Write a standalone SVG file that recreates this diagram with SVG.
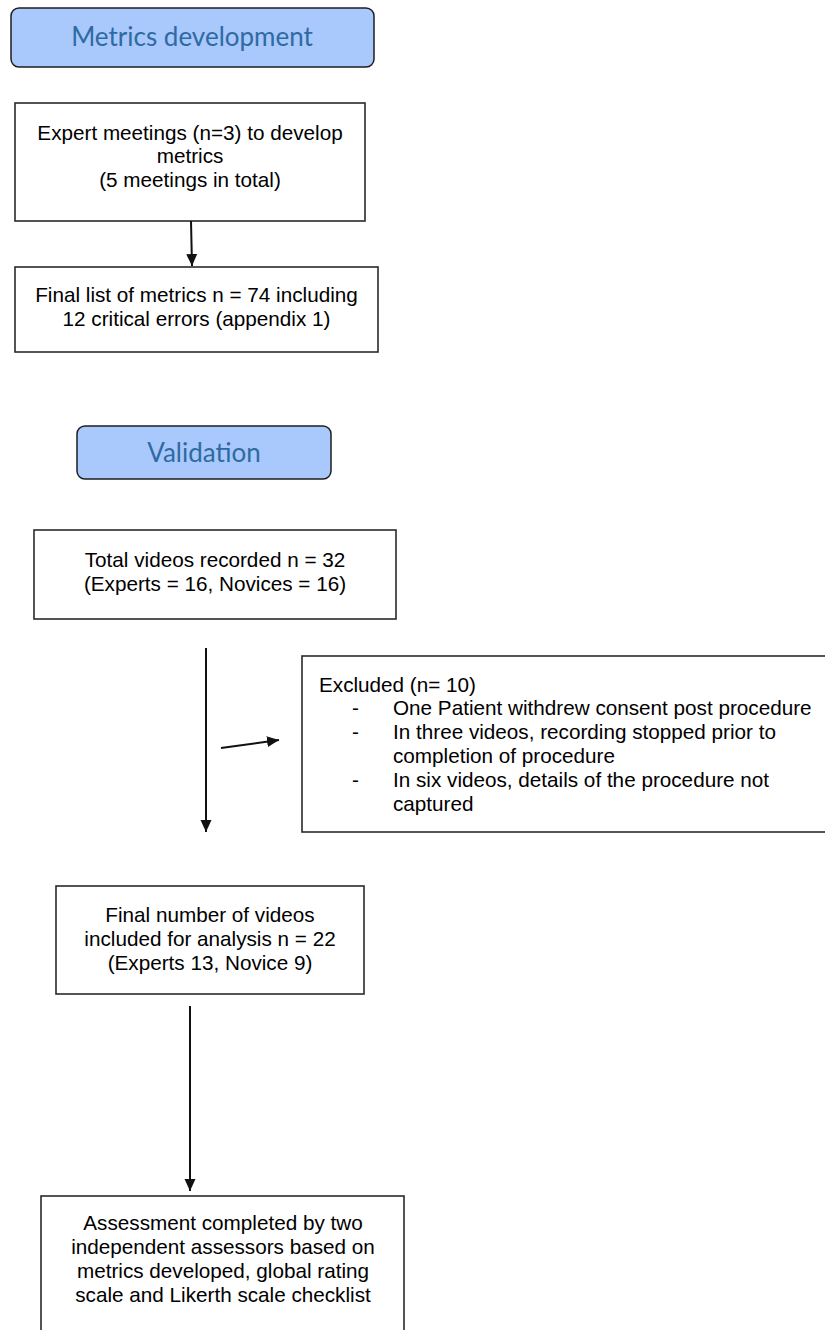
<svg xmlns="http://www.w3.org/2000/svg" width="825" height="1330" viewBox="0 0 825 1330">
<defs>
<style>
.hdr{fill:#a9c8fb;stroke:#1e1e1e;stroke-width:1.5}
.hdrt{font-family:Lato,"Open Sans",sans-serif;font-size:26px;fill:#2f6aa3;text-anchor:middle}
.box{fill:#ffffff;stroke:#2a2a2a;stroke-width:1.6}
.t{font-family:"Liberation Sans",Arial,sans-serif;font-size:20.7px;fill:#000}
.c{text-anchor:middle}
.ln{stroke:#111;stroke-width:2;fill:none}
</style>
<marker id="ah" markerWidth="12" markerHeight="12" viewBox="0 0 12 12" refX="12" refY="6" orient="auto" markerUnits="userSpaceOnUse">
<path d="M0,0.5 L12,6 L0,11.5 Z" fill="#111"/>
</marker>
</defs>
<rect width="825" height="1330" fill="#ffffff"/>
<g id="hdr-metrics">
<rect class="hdr" x="11" y="8" width="363" height="59" rx="8"/>
<text class="hdrt" x="192" y="46">Metrics development</text>
</g>
<g id="n-expert">
<rect class="box" x="15" y="103" width="350" height="118"/>
<text class="t c" x="190" y="140">Expert meetings (n=3) to develop</text>
<text class="t c" x="190" y="163">metrics</text>
<text class="t c" x="190" y="187">(5 meetings in total)</text>
</g>
<g id="n-final-list">
<rect class="box" x="15" y="267" width="363" height="85"/>
<text class="t c" x="196.5" y="302">Final list of metrics n = 74 including</text>
<text class="t c" x="196.5" y="326">12 critical errors (appendix 1)</text>
</g>
<g id="hdr-validation">
<rect class="hdr" x="77" y="426" width="254" height="53" rx="8"/>
<text class="hdrt" x="204" y="462">Validation</text>
</g>
<g id="n-total">
<rect class="box" x="34" y="530" width="362" height="89"/>
<text class="t c" x="215" y="567">Total videos recorded n = 32</text>
<text class="t c" x="215" y="591">(Experts = 16, Novices = 16)</text>
</g>
<g id="n-excluded">
<rect class="box" x="302" y="656" width="530" height="176"/>
<text class="t" x="319" y="692">Excluded (n= 10)</text>
<text class="t" x="352" y="715">-</text>
<text class="t" x="393" y="715">One Patient withdrew consent post procedure</text>
<text class="t" x="352" y="739">-</text>
<text class="t" x="393" y="739">In three videos, recording stopped prior to</text>
<text class="t" x="393" y="763">completion of procedure</text>
<text class="t" x="352" y="787">-</text>
<text class="t" x="393" y="787">In six videos, details of the procedure not</text>
<text class="t" x="393" y="811">captured</text>
</g>
<g id="n-final-videos">
<rect class="box" x="56" y="886" width="308" height="108"/>
<text class="t c" x="210" y="922">Final number of videos</text>
<text class="t c" x="210" y="946">included for analysis n = 22</text>
<text class="t c" x="210" y="970">(Experts 13, Novice 9)</text>
</g>
<g id="n-assessment">
<rect class="box" x="41" y="1196" width="363" height="160"/>
<text class="t c" x="223" y="1230">Assessment completed by two</text>
<text class="t c" x="223" y="1254">independent assessors based on</text>
<text class="t c" x="223" y="1278">metrics developed, global rating</text>
<text class="t c" x="223" y="1302">scale and Likerth scale checklist</text>
</g>
<g id="connectors">
<line class="ln" x1="191" y1="221" x2="192" y2="266" marker-end="url(#ah)"/>
<line class="ln" x1="206" y1="648" x2="206" y2="832" marker-end="url(#ah)"/>
<line class="ln" x1="221" y1="748" x2="279" y2="740" marker-end="url(#ah)"/>
<line class="ln" x1="190" y1="1006" x2="190" y2="1191" marker-end="url(#ah)"/>
</g>
</svg>
